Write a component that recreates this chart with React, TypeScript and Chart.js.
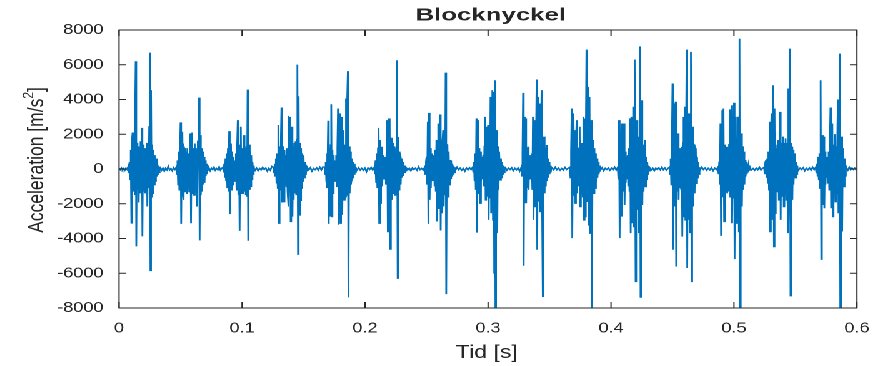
import React, { useEffect, useRef } from "react";
import { Chart, registerables } from "chart.js";

Chart.register(...registerables);

// ---------- text ----------
const chartTitle = "Blocknyckel";
const xAxisLabel = "Tid [s]";
const yAxisLabelMain = "Acceleration [m/s";
const yAxisLabelSup = "2";
const yAxisLabelEnd = "]";

// ---------- ticks ----------
const xTickValues = [0, 0.1, 0.2, 0.3, 0.4, 0.5, 0.6];
const xTickLabels = ["0", "0.1", "0.2", "0.3", "0.4", "0.5", "0.6"];
const yTickValues = [-8000, -6000, -4000, -2000, 0, 2000, 4000, 6000, 8000];
const yTickLabels = ["-8000", "-6000", "-4000", "-2000", "0", "2000", "4000", "6000", "8000"];

// ---------- data (acceleration, m/s^2) ----------
const sampleStep = 0.0005; // s between samples inside a burst
const burstStarts = [0.0075, 0.0465, 0.0845, 0.1255, 0.167, 0.2075, 0.2485, 0.2875, 0.327, 0.3665, 0.4055, 0.4475, 0.487, 0.5245, 0.5665];

const burst01 = [150, -200, 400, -600, 1100, -3100, 1650, 2100, -1300, 1400, -1500, 1200, 6200, -4450, 1500, -1200, 1300, -1930, 1100, -1400, 1600, -1000, 2370, -3880, 1400, -1300, 1200, -1400, 1000, -1200, 1500, -2160, 1300, -1100, 2430, 6700, -5840, 4540, -1600, 1400, -1400, 1100, -900, 800, -700, 500, -400, 600, -300, 200, -200, 100];
const burst02 = [100, -300, 500, -900, 1000, -1200, 900, 2680, -3160, 1300, 2140, -1500, -1780, 1200, 1090, -1300, 1000, -1400, 1200, -1100, 900, -1300, 1400, 2050, -3120, 1500, 2100, -1400, 1200, -1500, 1470, -1300, 1200, -1600, -2160, 1400, 1300, 4110, -4110, 1950, -1500, 1200, -1300, 1000, -900, 700, -800, 500, -400, 300, -300, 200, -100];
const burst03 = [100, -200, 300, -500, 600, -700, 900, -1100, 1200, -1300, 2180, -2600, 1200, 1470, -1200, 1000, -900, 700, -600, 500, -700, 900, -1200, 1300, 2810, -1500, 1400, -3560, 1300, 2430, -1400, 1200, -1400, 1100, 1950, -1300, 1200, -1500, 1300, -1600, 4570, -4130, 1400, -1200, 1090, -1000, 800, -600, 400, -300, 200, -100];
const burst04 = [100, -200, 300, -400, 600, -800, 900, -1100, 2530, -3120, 1300, -1200, 1400, 3540, -1930, 1300, -1200, -1880, 1100, -900, 800, -1000, 1200, -1300, 3060, -2160, 1500, 3000, -3020, 1400, 2430, -2740, 1300, -1780, 1500, -1400, 1600, -1500, 1700, 6010, -4900, 4190, -2640, 1500, -1800, 1200, -1100, 900, -700, 800, -500, 400, -300, 200, -100];
const burst05 = [100, -300, 400, -700, 900, -1100, 2780, -3160, 1200, -2740, 1380, 3730, -2740, 1100, -1400, 800, -700, 500, -600, 800, -1000, 1200, 3480, -3210, 1400, 3200, -3120, 1300, 3000, -2640, 1500, 2240, -1780, 1400, -1600, 4060, -1500, 4060, 5630, -7390, 1300, -1400, 1000, -900, -630, 600, -500, 400, -300, 300, -200, 100, -100];
const burst06 = [100, -300, 500, -800, 900, -1100, 1200, 2370, -3120, 1670, -1970, 1000, 1280, -1000, 800, -600, 500, -600, 700, -900, 1100, 2810, -3600, 2910, -1400, 2910, -4610, 1300, 1800, -1780, 1300, 1500, -1400, 1300, -1500, 1200, -1300, 6260, -6280, 1850, -1200, 1000, 730, -900, 600, -500, 400, -400, 300, -200, 200, -100];
const burst07 = [100, -300, 400, 700, -900, 2720, -3160, 3230, -1780, 1200, -1100, 900, -700, 600, -700, 800, -1000, 1100, -1300, 1670, -3020, 1400, 2620, -2260, 1500, 3140, -3540, 1670, -2550, 1400, 2240, -2160, 1300, -1500, 5550, -7200, 1400, 1380, -1600, 1000, -900, 520, -540, 500, -400, 300, -300, 200, -200, 100];
const burst08 = [100, -200, 400, -700, 900, -1200, 2910, -3660, 1300, 2810, -1400, 1200, -1970, 1000, -800, 700, -600, 800, -1000, 1300, 3000, -1780, 1400, 2430, -1600, 2530, -2930, 1500, -1700, 4150, -2550, 1600, 4540, -2930, 4440, -5990, 5110, -8500, 1500, 2240, -3690, 1300, -1200, 1000, 1000, -630, 600, -500, 400, -300, 200, -200, 100];
const burst09 = [100, -400, 900, 4380, -5570, 3000, -1970, 2910, -1970, 1200, -1100, 1280, -1200, 800, -600, 500, -600, 900, -1200, 3000, -2930, 1500, 2810, -2160, 1600, 5150, -4650, 4150, -1880, 1600, 3770, -2450, 1700, 4540, -2550, -7330, 1500, 1860, -1400, 1200, -1000, 1380, -700, 600, -500, 400, -300, 200, -200, 100];
const burst10 = [100, -500, 1000, 3480, -3980, 1400, 3200, -1500, 2240, -1970, 1300, 2810, -1400, 1100, -1000, 1200, 2430, -2160, 1300, -1400, 1500, -1600, 3000, -2930, 2910, -2740, 1700, 6870, -1900, 1800, 4730, -3220, 4150, -3690, 1800, 2810, -8500, 1500, 1670, -1400, 1200, -1100, 900, -800, 600, -500, 400, -300, 200, -100];
const burst11 = [100, -600, 2810, -3980, 1300, -1200, 2620, -2740, 1200, -1300, 2620, -2070, 1000, -800, 700, -600, 800, -1000, 1200, -1300, 2910, -3690, 3000, -3120, 1600, 3580, -3310, 1700, 6300, -6470, 1800, 2810, -2350, 1860, -3690, 1600, 7060, -7370, 1700, 3960, -2070, 1400, -1300, 1100, 1670, -1010, 700, -600, 400, -300, 200, -100];
const burst12 = [100, -300, 600, -900, 1200, 4920, -4650, 1400, 3770, -2160, 3870, -5610, 1400, -1300, 2050, -1780, 1200, -1100, 1000, -1200, 1280, -3890, 1500, 3000, -2740, 3580, -2930, 1700, 6870, -5700, 3200, -2930, 3200, -3690, 1800, 6740, -6470, 1700, 2430, -2160, 1400, -1400, 1200, 1100, -820, 700, -500, 400, -300, 100];
const burst13 = [100, -300, 420, -900, 2620, -3850, 1300, 3390, -1590, 3480, -3020, 1400, -1300, 1100, 1280, -1400, 1200, -1300, 1400, 3430, -1600, 1500, 3670, -3120, 1600, -1700, 3810, -5190, 1700, 3000, -3120, 1800, -2000, 3010, -3600, 7500, -8500, 1600, 2050, -2160, 1300, -1200, 1000, -900, 520, -440, 400, -300, 300, -200, 200, -100];
const burst14 = [100, -300, 400, 520, -470, 600, -800, 1000, -1200, 2720, -3600, 1400, 3200, -2930, 1500, 4820, -4460, 3480, -2550, 1400, -1300, 1200, -1100, 1670, -1780, 1500, 3290, -2930, 1500, -1600, 1400, 1860, -2160, 1500, -1400, 1760, -1780, 1500, -1600, 4630, -3690, 1700, 6930, -7290, 1500, 1280, -1780, 1100, -900, 700, 900, -500, 400, -300, 200, -100];
const burst15 = [100, -200, 300, -400, 700, -600, 900, -1100, 5110, -5190, 1300, 1950, -2070, 1860, -2260, 1000, -900, 700, -500, 600, -800, 1000, -1200, 1300, 3540, -2260, 1400, 2620, -2740, 1400, -1300, 2010, -1880, 1300, -1400, 1500, 4000, -2550, 1600, 6640, -8500, 1500, 1860, -3600, 1200, 900, -1010, 600, -400, 200];

// quiet stretches before each burst (and one after the last), spread evenly over the gap
const gap00 = [30, -40, 60, -50, 30, -70, 50, -30];
const gap01 = [100, -70, 50, -120, 40, -50, 150, -60, 30, -100, 70, -30];
const gap02 = [70, -100, 50, -40, 100, -70, 30, -50, 120, -60, 40];
const gap03 = [-70, 50, -100, 30, -50, 90, -30, 60, -120, 40, -70, 150];
const gap04 = [100, -50, 70, -120, 30, -40, 60, -70, 100, -50, 120];
const gap05 = [-100, 70, -60, 40, -70, 50, -150, 60, -30, 90, -50];
const gap06 = [70, -50, 40, -100, 60, -30, 50, -70, 120, -40, 30, -60];
const gap07 = [-70, 100, -40, 50, -70, 30, -120, 60, -50, 70, -30];
const gap08 = [100, -70, 50, -30, 70, -100, 40, -50, 60, -120];
const gap09 = [70, -50, 100, -40, 50, -70, 30, -60, 90, -30, 50];
const gap10 = [-50, 70, -100, 40, -30, 60, -70, 50, -40, 100, -60];
const gap11 = [70, -60, 40, -100, 50, -30, 70, -50, 100, -40, 60, -70, 30];
const gap12 = [-50, 100, -30, 60, -70, 40, -50, 70, -100, 50, -30];
const gap13 = [70, -50, 30, -70, 50, -40, 100, -60, 40];
const gap14 = [-60, 50, -30, 70, -100, 40, -50, 60, -70, 100, -40];
const gap15 = [50, -70, 100, -40, 60, -30, 50, -50];

const bursts = [burst01, burst02, burst03, burst04, burst05, burst06, burst07, burst08, burst09, burst10, burst11, burst12, burst13, burst14, burst15];
const gaps = [gap00, gap01, gap02, gap03, gap04, gap05, gap06, gap07, gap08, gap09, gap10, gap11, gap12, gap13, gap14, gap15];
const timeEnd = 0.6005;

function buildPoints() {
  const pts: { x: number; y: number }[] = [];
  let prevEnd = 0;
  for (let k = 0; k < bursts.length; k++) {
    const g = gaps[k];
    const a = prevEnd;
    const b = burstStarts[k];
    g.forEach((v, j) => pts.push({ x: a + ((b - a) * j) / g.length, y: v }));
    bursts[k].forEach((v, i) => pts.push({ x: burstStarts[k] + i * sampleStep, y: v }));
    prevEnd = burstStarts[k] + bursts[k].length * sampleStep;
  }
  const last = gaps[gaps.length - 1];
  last.forEach((v, j) => pts.push({ x: prevEnd + ((timeEnd - prevEnd) * j) / last.length, y: v }));
  return pts;
}

// ---------- layout ----------
const STRETCH = 1.25;
const W = 885 / STRETCH;
const H = 366;
const PLOT_LEFT = 119 / STRETCH;
const PLOT_RIGHT = 857 / STRETCH;
const PLOT_TOP = 30;
const PLOT_BOTTOM = 308;
const FONT = "'Liberation Sans', Arial, Helvetica, sans-serif";
const TEXT = "#262626";

const framePlugin = {
  id: "matlabFrame",
  afterDraw(chart: any) {
    const { ctx, chartArea } = chart;
    const xs = chart.scales.x;
    const ys = chart.scales.y;
    ctx.save();
    ctx.strokeStyle = TEXT;
    ctx.lineWidth = 1;
    ctx.strokeRect(chartArea.left, chartArea.top, chartArea.right - chartArea.left, chartArea.bottom - chartArea.top);
    ctx.beginPath();
    xTickValues.forEach((v) => {
      const px = xs.getPixelForValue(v);
      ctx.moveTo(px, chartArea.bottom);
      ctx.lineTo(px, chartArea.bottom - 6);
      ctx.moveTo(px, chartArea.top);
      ctx.lineTo(px, chartArea.top + 6);
    });
    yTickValues.forEach((v) => {
      const py = ys.getPixelForValue(v);
      ctx.moveTo(chartArea.left, py);
      ctx.lineTo(chartArea.left + 5.6, py);
      ctx.moveTo(chartArea.right, py);
      ctx.lineTo(chartArea.right - 5.6, py);
    });
    ctx.stroke();

    ctx.fillStyle = TEXT;
    // title
    ctx.save();
    ctx.font = `bold 17.5px ${FONT}`;
    ctx.textAlign = "center";
    ctx.textBaseline = "alphabetic";
    ctx.translate(392.5, 20.5);
    ctx.scale(1.18, 1);
    ctx.fillText(chartTitle, 0, 0);
    ctx.restore();

    // x label
    ctx.font = `18.5px ${FONT}`;
    ctx.textAlign = "center";
    ctx.textBaseline = "alphabetic";
    ctx.fillText(xAxisLabel, (chartArea.left + chartArea.right) / 2 - 1, 358);

    // y label with superscript
    ctx.save();
    ctx.translate(34.5, 160);
    ctx.rotate(-Math.PI / 2);
    ctx.textAlign = "left";
    ctx.textBaseline = "alphabetic";
    ctx.font = `17.5px ${FONT}`;
    const w1 = ctx.measureText(yAxisLabelMain).width;
    const w3 = ctx.measureText(yAxisLabelEnd).width;
    ctx.font = `12px ${FONT}`;
    const w2 = ctx.measureText(yAxisLabelSup).width;
    const start = -(w1 + w2 + w3) / 2;
    ctx.font = `17.5px ${FONT}`;
    ctx.fillText(yAxisLabelMain, start, 0);
    ctx.fillText(yAxisLabelEnd, start + w1 + w2, 0);
    ctx.font = `12px ${FONT}`;
    ctx.fillText(yAxisLabelSup, start + w1, -8);
    ctx.restore();

    ctx.restore();
  },
};

export default function App() {
  const ref = useRef<HTMLCanvasElement | null>(null);

  useEffect(() => {
    if (!ref.current) return;
    const points = buildPoints();
    const chart = new Chart(ref.current, {
      type: "line",
      data: {
        datasets: [
          {
            data: points,
            borderColor: "#0072BD",
            backgroundColor: "#0072BD",
            borderWidth: 1.4,
            pointRadius: 0,
            tension: 0,
            fill: false,
          },
        ],
      },
      options: {
        animation: false,
        responsive: false,
        devicePixelRatio: 2,
        parsing: false,
        normalized: true,
        events: [],
        layout: { padding: { top: PLOT_TOP, right: W - PLOT_RIGHT, left: 0, bottom: 0 } },
        plugins: {
          legend: { display: false },
          tooltip: { enabled: false },
          title: { display: false },
        },
        scales: {
          x: {
            type: "linear",
            min: 0,
            max: 0.6,
            afterBuildTicks: (s: any) => {
              s.ticks = xTickValues.map((v) => ({ value: v }));
            },
            afterFit: (s: any) => {
              s.height = H - PLOT_BOTTOM;
            },
            ticks: {
              autoSkip: false,
              maxRotation: 0,
              padding: 4,
              color: TEXT,
              font: { family: FONT, size: 14.5 },
              callback: (v: any) => {
                const i = xTickValues.findIndex((t) => Math.abs(t - Number(v)) < 1e-9);
                return i >= 0 ? xTickLabels[i] : "";
              },
            },
            grid: { display: false },
            border: { display: false },
          },
          y: {
            type: "linear",
            min: -8000,
            max: 8000,
            afterBuildTicks: (s: any) => {
              s.ticks = yTickValues.map((v) => ({ value: v }));
            },
            afterFit: (s: any) => {
              s.width = PLOT_LEFT;
            },
            ticks: {
              autoSkip: false,
              padding: 12.5,
              color: TEXT,
              font: { family: FONT, size: 14.5 },
              callback: (v: any) => {
                const i = yTickValues.indexOf(Number(v));
                return i >= 0 ? yTickLabels[i] : "";
              },
            },
            grid: { display: false, drawTicks: false },
            border: { display: false },
          },
        },
      },
      plugins: [framePlugin],
    } as any);
    return () => chart.destroy();
  }, []);

  return (
    <div
      style={{
        position: "absolute",
        left: 0,
        top: 0,
        width: W,
        height: H,
        transform: `scaleX(${STRETCH})`,
        transformOrigin: "0 0",
        background: "#ffffff",
      }}
    >
      <canvas ref={ref} width={W} height={H} style={{ width: W, height: H, display: "block" }} />
    </div>
  );
}
